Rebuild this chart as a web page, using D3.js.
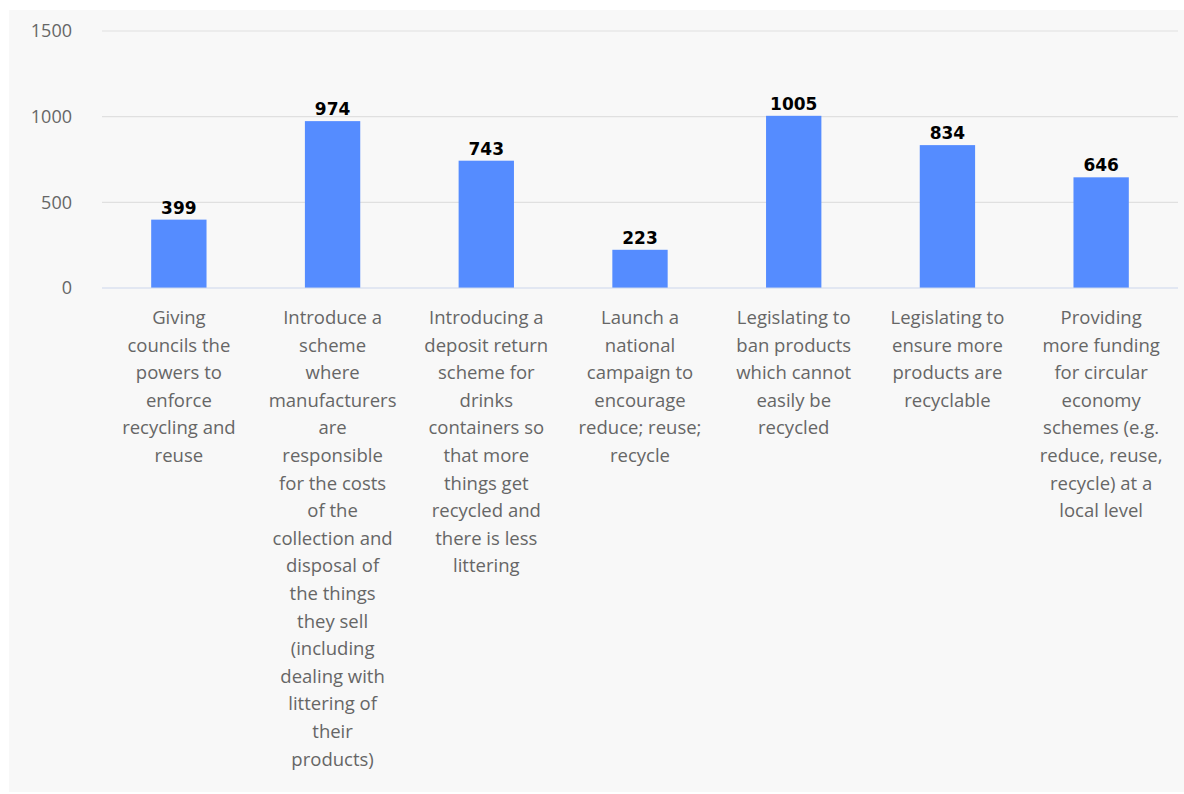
<!DOCTYPE html>
<html>
<head>
<meta charset="utf-8">
<script src="https://cdn.jsdelivr.net/npm/d3@7"></script>
<style>
  html, body { margin: 0; padding: 0; background: #ffffff; }
  svg { display: block; }
</style>
</head>
<body>
<svg id="chart" width="1184" height="794"></svg>
<script>
// Category labels (line breaks as shown under each bar)
const categories = [
  "Giving\ncouncils the\npowers to\nenforce\nrecycling and\nreuse",
  "Introduce a\nscheme\nwhere\nmanufacturers\nare\nresponsible\nfor the costs\nof the\ncollection and\ndisposal of\nthe things\nthey sell\n(including\ndealing with\nlittering of\ntheir\nproducts)",
  "Introducing a\ndeposit return\nscheme for\ndrinks\ncontainers so\nthat more\nthings get\nrecycled and\nthere is less\nlittering",
  "Launch a\nnational\ncampaign to\nencourage\nreduce; reuse;\nrecycle",
  "Legislating to\nban products\nwhich cannot\neasily be\nrecycled",
  "Legislating to\nensure more\nproducts are\nrecyclable",
  "Providing\nmore funding\nfor circular\neconomy\nschemes (e.g.\nreduce, reuse,\nrecycle) at a\nlocal level"
];
const values = [399, 974, 743, 223, 1005, 834, 646];
const yTicks = [0, 500, 1000, 1500];

const svg = d3.select("#chart");
const W = 1184, H = 794;
const labelFont = "'Open Sans', Lato, sans-serif";

// panel background
svg.append("rect")
  .attr("x", 9).attr("y", 10).attr("width", W - 9).attr("height", 782)
  .attr("fill", "#f8f8f8");

const margin = { left: 102, right: 6, top: 31, bottom: 506 };
const x = d3.scaleBand()
  .domain(d3.range(categories.length))
  .range([margin.left, W - margin.right])
  .paddingInner(0.64)
  .paddingOuter(0.32);
const y = d3.scaleLinear()
  .domain([0, 1500])
  .range([H - margin.bottom, margin.top]);

// gridlines
svg.append("g")
  .selectAll("line")
  .data(yTicks.filter(d => d > 0))
  .join("line")
  .attr("x1", margin.left).attr("x2", W - margin.right)
  .attr("y1", d => y(d)).attr("y2", d => y(d))
  .attr("stroke", "#e0e0e0").attr("stroke-width", 1.2);

// y axis tick labels
const yAxis = d3.axisLeft(y).tickValues(yTicks).tickFormat(d3.format("d")).tickSize(0).tickPadding(0);
const yg = svg.append("g").attr("transform", `translate(${margin.left - 30},0)`).call(yAxis);
yg.select(".domain").remove();
yg.selectAll("text")
  .attr("font-family", labelFont)
  .attr("font-size", 18)
  .attr("fill", "#666666");

// bars
svg.append("g")
  .selectAll("rect")
  .data(values)
  .join("rect")
  .attr("x", (d, i) => x(i))
  .attr("width", x.bandwidth())
  .attr("y", d => y(d))
  .attr("height", d => y(0) - y(d))
  .attr("fill", "#558cff");

// baseline
svg.append("line")
  .attr("x1", margin.left).attr("x2", W - margin.right)
  .attr("y1", y(0)).attr("y2", y(0))
  .attr("stroke", "#ccd6eb").attr("stroke-width", 1.2);

// value labels
svg.append("g")
  .selectAll("text")
  .data(values)
  .join("text")
  .attr("x", (d, i) => x(i) + x.bandwidth() / 2)
  .attr("y", d => y(d) - 6)
  .attr("text-anchor", "middle")
  .attr("font-family", "'DejaVu Sans', sans-serif")
  .attr("font-weight", "bold")
  .attr("font-size", 17)
  .attr("fill", "#000000")
  .text(d => d);

// category labels
const xAxis = d3.axisBottom(x).tickSize(0).tickFormat(() => "");
const xg = svg.append("g").attr("transform", `translate(0,${y(0)})`).call(xAxis);
xg.select(".domain").remove();
xg.selectAll(".tick").each(function(i) {
  const t = d3.select(this).append("text")
    .attr("text-anchor", "middle")
    .attr("font-family", labelFont)
    .attr("font-size", 18.5)
    .attr("fill", "#666666");
  categories[i].split("\n").forEach((line, k) => {
    t.append("tspan").attr("x", 0).attr("y", 36 + k * 27.6).text(line);
  });
});
</script>
</body>
</html>
